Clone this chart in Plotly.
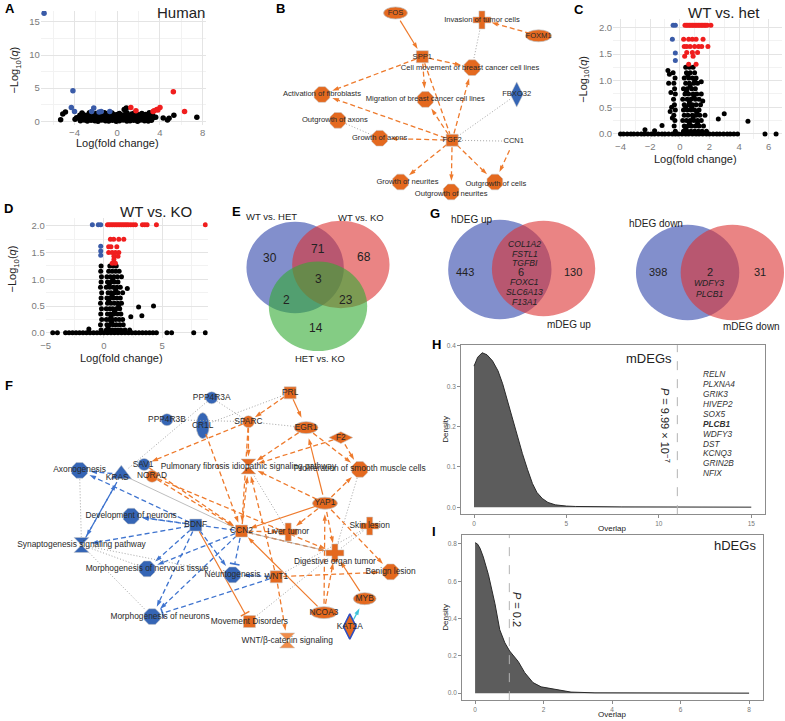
import plotly.graph_objects as go

W, H = 785, 721
FONT = "Liberation Sans, Arial, sans-serif"

# ---------------- data ----------------
# A: human volcano (log fold change, -log10 q)
a_black = [(-3.45, 0.1), (-3.1, 0.2), (-2.8, 0.05), (-2.45, 0.15), (-2.1, 0.1), (-1.8, 0.0), (-1.45, 0.2),
           (-1.1, 0.1), (-0.8, 0.05), (-0.45, 0.15), (-0.1, 0.0), (0.2, 0.1), (0.55, 0.2), (0.9, 0.05),
           (1.2, 0.1), (1.55, 0.15), (1.9, 0.0), (2.2, 0.2), (2.55, 0.1), (2.9, 0.05), (3.2, 0.15),
           (-3.6, 0.5), (-3.25, 0.6), (-2.95, 0.45), (-2.6, 0.55), (-2.3, 0.5), (-1.95, 0.6), (-1.6, 0.4),
           (-1.3, 0.55), (-0.95, 0.5), (-0.6, 0.45), (-0.3, 0.6), (0.05, 0.5), (0.4, 0.55), (0.7, 0.45),
           (1.05, 0.6), (1.4, 0.5), (1.7, 0.4), (2.05, 0.55), (2.4, 0.5), (2.7, 0.6), (3.05, 0.45), (3.35, 0.55),
           (-3.5, 0.9), (-3.15, 1.0), (-2.75, 0.95), (-2.4, 1.05), (-2.05, 0.9), (-1.7, 1.0), (-1.35, 0.95),
           (-1.0, 1.1), (-0.65, 0.9), (-0.3, 1.0), (0.0, 1.05), (0.35, 0.95), (0.65, 1.0), (1.0, 0.9),
           (1.35, 1.1), (1.65, 0.95), (2.0, 1.0), (2.35, 0.9), (2.65, 1.05), (3.0, 0.95), (3.3, 1.0),
           (-3.3, 1.25), (-2.6, 1.3), (-2.0, 1.2), (-1.2, 1.3), (-0.5, 1.25), (0.2, 1.2), (0.9, 1.3),
           (1.6, 1.25), (2.3, 1.2), (3.0, 1.3),
           (-5.3, 0.25), (-5.1, 1.1), (-4.85, 1.4), (-3.95, 0.3), (-3.8, 0.55), (0.65, 1.8), (0.85, 2.0),
           (3.6, 0.6), (4.3, 0.5), (4.7, 0.2), (4.85, 0.45), (5.3, 0.9), (7.45, 0.6)]
a_blue = [(-6.85, 16.3), (-4.15, 4.6), (-4.3, 2.1), (-4.0, 1.5), (-2.2, 2.0), (-2.4, 1.5),
          (-1.5, 1.5), (-1.7, 1.4), (-0.7, 1.5)]
a_red = [(5.25, 4.45), (6.3, 1.5), (1.27, 2.1), (1.75, 1.6), (3.35, 1.5), (3.7, 1.8),
         (4.0, 2.1), (3.8, 1.7), (3.45, 1.6)]

# C: WT vs. het volcano
c_black = [(-4.0, 0), (-3.8, 0), (-3.55, 0), (-3.3, 0), (-3.1, 0), (-2.85, 0), (-2.6, 0), (-2.4, 0),
           (-2.15, 0), (-1.9, 0), (-1.7, 0), (-1.45, 0), (-1.2, 0), (-1.0, 0), (-0.75, 0), (-0.5, 0),
           (-0.3, 0), (-0.1, 0), (0.15, 0), (0.4, 0), (0.6, 0), (0.85, 0), (1.1, 0), (1.3, 0), (1.55, 0),
           (1.8, 0), (2.0, 0), (2.25, 0), (2.5, 0), (2.7, 0), (2.95, 0), (3.2, 0), (3.4, 0), (3.65, 0),
           (3.9, 0), (5.75, 0), (6.5, 0),
           (-2.35, 0.08), (-1.7, 0.06), (-1.2, 0.16),
           (-0.3, 0.05), (-0.38, 0.15), (-0.33, 0.25), (-0.4, 0.35), (-0.3, 0.45), (-0.36, 0.55),
           (-0.42, 0.65), (-0.3, 0.75), (-0.35, 0.85), (-0.4, 0.95), (-0.32, 1.05), (-0.45, 1.15),
           (-0.8, 1.19), (-0.7, 1.12), (-0.75, 0.95), (-0.6, 0.78), (-0.55, 0.5), (-0.65, 0.42), (-0.5, 0.3),
           (0.25, 0.05), (0.5, 0.05), (0.75, 0.05), (1.0, 0.05), (1.25, 0.05), (1.5, 0.05), (1.8, 0.05),
           (0.3, 0.15), (0.55, 0.15), (0.8, 0.15), (1.05, 0.15), (1.3, 0.15), (1.6, 0.15),
           (0.2, 0.25), (0.45, 0.25), (0.7, 0.25), (0.95, 0.25), (1.2, 0.25), (1.45, 0.25),
           (0.3, 0.35), (0.55, 0.35), (0.85, 0.35), (1.1, 0.35), (1.35, 0.35), (1.7, 0.35),
           (0.25, 0.45), (0.5, 0.45), (0.75, 0.45), (1.0, 0.45), (1.3, 0.45),
           (0.3, 0.55), (0.6, 0.55), (0.85, 0.55), (1.1, 0.55), (1.4, 0.55),
           (0.2, 0.65), (0.5, 0.65), (0.75, 0.65), (1.05, 0.65), (1.3, 0.65), (1.55, 0.62),
           (0.35, 0.75), (0.6, 0.75), (0.9, 0.75), (1.15, 0.75), (1.45, 0.75),
           (0.25, 0.85), (0.5, 0.85), (0.8, 0.85), (1.05, 0.85),
           (0.4, 0.95), (0.65, 0.95), (0.95, 0.95), (1.2, 0.95), (1.45, 0.98),
           (0.3, 1.05), (0.6, 1.05), (0.85, 1.05), (1.1, 1.05),
           (0.45, 1.15), (0.7, 1.15), (1.0, 1.15),
           (0.4, 1.25), (0.65, 1.25), (0.9, 1.25),
           (0.4, 0.1), (0.65, 0.2), (0.9, 0.3), (1.15, 0.4), (0.4, 0.5), (0.65, 0.6), (0.95, 0.7),
           (0.45, 0.8), (0.7, 0.9), (1.0, 1.0), (0.55, 1.1), (0.8, 0.5), (1.2, 0.2),
           (2.6, 0.28), (3.0, 0.38), (4.6, 0.24)]
c_blue = [(-0.45, 2.04), (-0.3, 2.04), (-0.5, 1.78), (-0.3, 1.52), (-0.3, 1.38)]
c_red = [(0.35, 2.04), (0.45, 2.04), (0.55, 2.04), (0.65, 2.04), (0.75, 2.04), (0.85, 2.04), (0.95, 2.04),
         (1.05, 2.04), (1.15, 2.04), (1.25, 2.04), (1.35, 2.04), (1.45, 2.04), (1.55, 2.04), (1.65, 2.04),
         (1.75, 2.04), (1.85, 2.04), (2.1, 2.04),
         (0.26, 1.78), (0.6, 1.78), (0.85, 1.78), (1.1, 1.78), (1.57, 1.78),
         (0.3, 1.64), (0.47, 1.64), (0.7, 1.64), (1.0, 1.64), (1.27, 1.64), (1.48, 1.64), (1.9, 1.64),
         (0.47, 1.53), (0.85, 1.53), (1.2, 1.53), (0.33, 1.46), (0.9, 1.46), (0.6, 1.31), (1.1, 1.31)]

# D: WT vs. KO volcano
d_black = [(-4.4, 0), (-4.0, 0), (-3.3, 0), (-3.0, 0), (-2.7, 0), (-2.4, 0), (-2.1, 0), (-1.8, 0),
           (-1.5, 0), (-1.2, 0), (-0.9, 0), (-0.6, 0), (-0.3, 0), (0.0, 0), (0.3, 0), (0.6, 0), (0.9, 0),
           (1.2, 0), (1.5, 0), (1.8, 0), (2.1, 0), (2.4, 0), (2.7, 0), (3.0, 0), (3.3, 0), (3.6, 0),
           (3.9, 0), (4.2, 0), (4.5, 0), (5.4, 0), (5.8, 0), (7.7, 0), (8.7, 0), (-1.3, 0.07),
           (-0.25, 0.05), (-0.3, 0.15), (-0.2, 0.25), (-0.28, 0.35), (-0.22, 0.45), (-0.3, 0.55),
           (-0.25, 0.65), (-0.2, 0.75), (-0.3, 0.85), (-0.25, 0.95), (-0.22, 1.05), (-0.28, 1.15), (-0.25, 1.25),
           (0.2, 0.05), (0.45, 0.05), (0.7, 0.05), (0.95, 0.05), (1.2, 0.05), (1.45, 0.05), (1.8, 0.05), (2.2, 0.05),
           (0.25, 0.15), (0.5, 0.15), (0.8, 0.15), (1.05, 0.15), (1.35, 0.15), (1.65, 0.15),
           (0.2, 0.25), (0.45, 0.25), (0.7, 0.25), (1.0, 0.25), (1.3, 0.25), (1.6, 0.25),
           (0.3, 0.35), (0.55, 0.35), (0.85, 0.35), (1.15, 0.35), (1.45, 0.35),
           (0.2, 0.45), (0.5, 0.45), (0.75, 0.45), (1.05, 0.45), (1.35, 0.45),
           (0.3, 0.55), (0.6, 0.55), (0.9, 0.55), (1.2, 0.55), (1.5, 0.55),
           (0.25, 0.65), (0.5, 0.65), (0.8, 0.65), (1.1, 0.65), (1.4, 0.65),
           (0.35, 0.75), (0.6, 0.75), (0.9, 0.75), (1.2, 0.75), (1.6, 0.75),
           (0.2, 0.85), (0.5, 0.85), (0.8, 0.85), (1.1, 0.85), (1.4, 0.85),
           (0.3, 0.95), (0.6, 0.95), (0.9, 0.95), (1.2, 0.95),
           (0.25, 1.05), (0.55, 1.05), (0.85, 1.05), (1.15, 1.05), (1.5, 1.05),
           (0.4, 1.15), (0.7, 1.15), (1.0, 1.15), (1.3, 1.15),
           (0.5, 1.25), (0.8, 1.25), (1.05, 1.25),
           (0.35, 0.1), (0.65, 0.2), (0.9, 0.4), (0.4, 0.6), (0.7, 0.7), (1.0, 0.8), (0.45, 0.9),
           (0.75, 1.0), (0.6, 0.3), (1.25, 0.5),
           (2.0, 0.83), (2.97, 0.48), (4.25, 0.5), (3.25, 0.32), (2.3, 0.3)]
d_blue = [(-1.0, 2.02), (-0.49, 2.02), (-0.28, 2.02), (-0.28, 1.62), (-0.28, 1.53), (-0.28, 1.45)]
d_red = [(0.3, 2.02), (0.45, 2.02), (0.6, 2.02), (0.75, 2.02), (0.9, 2.02), (1.05, 2.02), (1.2, 2.02),
         (1.35, 2.02), (1.5, 2.02), (1.65, 2.02), (1.8, 2.02), (1.95, 2.02), (2.1, 2.02), (2.3, 2.02),
         (2.5, 2.02), (2.7, 2.02), (3.3, 2.02), (3.5, 2.02), (3.7, 2.02), (4.5, 2.02), (8.7, 2.02),
         (0.55, 1.75), (0.83, 1.75), (1.27, 1.75), (1.7, 1.75), (0.4, 1.61), (0.6, 1.61), (1.1, 1.61),
         (0.4, 1.5), (0.7, 1.5), (0.98, 1.5), (1.27, 1.5), (0.85, 1.43), (1.2, 1.43), (0.7, 1.3), (0.98, 1.3),
         (0.85, 1.37)]

# B: network (source, target, relation)
b_edges = [("FOS", "SPP1", "os"), ("FOXM1", "Invasion of tumor cells", "oa"),
           ("SPP1", "Cell movement of breast cancer cell lines", "oa"),
           ("SPP1", "Activation of fibroblasts", "oa"), ("SPP1", "Migration of breast cancer cell lines", "oa"),
           ("SPP1", "FGF2", "on"),
           ("FGF2", "Cell movement of breast cancer cell lines", "oa"),
           ("FGF2", "Migration of breast cancer cell lines", "oa"),
           ("FGF2", "Activation of fibroblasts", "oa"), ("FGF2", "Growth of axons", "oa"),
           ("FGF2", "Growth of neurites", "oa"), ("FGF2", "Outgrowth of neurites", "oa"),
           ("FGF2", "Outgrowth of cells", "oa"), ("CCN1", "Outgrowth of cells", "oa"),
           ("Invasion of tumor cells", "Cell movement of breast cancer cell lines", "gd"),
           ("FGF2", "FBXO32", "gd"), ("FGF2", "CCN1", "gd"), ("Outgrowth of axons", "Growth of axons", "gd")]

# F: network
f_edges = [("PRL", "SPARC", "oa"), ("EGR1", "Pulmonary fibrosis idiopathic signaling pathway", "oa"),
           ("EGR1", "Proliferation of smooth muscle cells", "oa"),
           ("F2", "Pulmonary fibrosis idiopathic signaling pathway", "oa"),
           ("F2", "Proliferation of smooth muscle cells", "oa"),
           ("YAP1", "Pulmonary fibrosis idiopathic signaling pathway", "oa"),
           ("YAP1", "Proliferation of smooth muscle cells", "oa"), ("YAP1", "Liver tumor", "oa"),
           ("YAP1", "Digestive organ tumor", "oa"), ("YAP1", "Benign lesion", "oa"),
           ("NCOA3", "YAP1", "oa"), ("NCOA3", "Digestive organ tumor", "oa"),
           ("WNT1", "Pulmonary fibrosis idiopathic signaling pathway", "oa"),
           ("WNT1", "WNT/β-catenin signaling", "oa"), ("WNT1", "Benign lesion", "oa"),
           ("SPARC", "CCN2", "oa"), ("SPARC", "SAV1", "oa"),
           ("SPARC", "Pulmonary fibrosis idiopathic signaling pathway", "oa"),
           ("CCN2", "Pulmonary fibrosis idiopathic signaling pathway", "oa"),
           ("SAV1", "CCN2", "oa"), ("NORAD", "CCN2", "oa"), ("NORAD", "Digestive organ tumor", "oa"),
           ("CR1L", "CCN2", "oa"), ("CCN2", "Liver tumor", "oa"), ("CCN2", "Digestive organ tumor", "oa"),
           ("PRL", "EGR1", "os"), ("YAP1", "EGR1", "os"), ("YAP1", "CCN2", "os"), ("NCOA3", "CCN2", "os"),
           ("MYB", "Digestive organ tumor", "os"), ("BDNF", "Movement Disorders", "ob"),
           ("BDNF", "Axonogenesis", "ba"), ("KRAS", "Axonogenesis", "ba"),
           ("BDNF", "Development of neurons", "ba"), ("CCN2", "Development of neurons", "ba"),
           ("BDNF", "Synaptogenesis signaling pathway", "ba"), ("KRAS", "Synaptogenesis signaling pathway", "ba"),
           ("Synaptogenesis signaling pathway", "KRAS", "ba"),
           ("BDNF", "Morphogenesis of nervous tissue", "ba"), ("BDNF", "Neuritogenesis", "ba"),
           ("BDNF", "Morphogenesis of neurons", "ba"), ("CCN2", "Morphogenesis of nervous tissue", "ba"),
           ("WNT1", "Neuritogenesis", "ba"), ("CCN2", "Morphogenesis of neurons", "ba"),
           ("CCN2", "Neuritogenesis", "bb"), ("WNT1", "Morphogenesis of neurons", "bb"),
           ("KAT2A", "MYB", "cy"),
           ("PPP4R3A", "SPARC", "gd"), ("PPP4R3A", "KRAS", "gd"), ("PPP4R3B", "SPARC", "gd"),
           ("PRL", "CR1L", "gd"), ("EGR1", "SPARC", "gd"),
           ("Axonogenesis", "Synaptogenesis signaling pathway", "gd"),
           ("Synaptogenesis signaling pathway", "Morphogenesis of nervous tissue", "gd"),
           ("Synaptogenesis signaling pathway", "Morphogenesis of neurons", "gd"),
           ("Synaptogenesis signaling pathway", "Neuritogenesis", "gd"),
           ("Proliferation of smooth muscle cells", "Digestive organ tumor", "gd"),
           ("Skin lesion", "Digestive organ tumor", "gd"),
           ("Pulmonary fibrosis idiopathic signaling pathway", "Liver tumor", "gd"),
           ("Movement Disorders", "Digestive organ tumor", "gd"), ("Skin lesion", "WNT1", "gd"),
           ("KRAS", "CCN2", "gs"), ("CCN2", "Digestive organ tumor", "gs")]

# E: three-way Venn of mouse DEG comparisons
e_sets = ["WT vs. HET", "WT vs. KO", "HET vs. KO"]
e_counts = [30, 71, 68, 3, 2, 23, 14]

# G: human vs mouse DEG overlaps
g_up_sets = ["hDEG up", "mDEG up"]
g_up_counts = [443, 6, 130]
g_up_genes = ["COL1A2", "FSTL1", "TGFBI", "FOXC1", "SLC6A13", "F13A1"]
g_down_sets = ["hDEG down", "mDEG down"]
g_down_counts = [398, 2, 31]
g_down_genes = ["WDFY3", "PLCB1"]

# H / I: permutation null densities of overlap
h_x = [0, 0.2, 0.44, 0.7, 1.0, 1.3, 1.55, 1.8, 2.08, 2.35, 2.62, 2.9, 3.16, 3.4, 3.69, 4.0, 4.4, 5.0, 5.5, 8, 12, 15]
h_y = [0.35, 0.372, 0.383, 0.378, 0.363, 0.338, 0.306, 0.265, 0.223, 0.178, 0.133, 0.093, 0.059, 0.037,
       0.022, 0.012, 0.006, 0.003, 0.002, 0.001, 0.0005, 0.0003]
h_observed = 11.0
h_pval = "<i>P</i> = 9.99 × 10<sup>−7</sup>"
h_genes = ["RELN", "PLXNA4", "GRIK3", "HIVEP2", "SOX5", "PLCB1", "WDFY3", "DST", "KCNQ3", "GRIN2B", "NFIX"]
h_bold = ["PLCB1"]

i_x = [0, 0.07, 0.145, 0.24, 0.39, 0.58, 0.72, 0.87, 1.01, 1.26, 1.45, 1.69, 1.93, 2.32, 2.8, 3.5, 5, 8]
i_y = [0.807, 0.80, 0.777, 0.73, 0.635, 0.48, 0.34, 0.27, 0.226, 0.17, 0.11, 0.057, 0.034, 0.021,
       0.006, 0.002, 0.001, 0.0005]
i_observed = 1.0
i_pval = "<i>P</i> = 0.2"

# ---------------- styling / layout ----------------
ORANGE = "#E4691F"
ORANGE_L = "#F08C4A"
BLUE = "#3565B5"
E_ORANGE = "#EE7A2C"
E_BLUE = "#3F74CF"
V_BLUE = "rgba(47,69,170,0.6)"
V_RED = "rgba(220,50,50,0.6)"
V_GREEN = "rgba(50,170,50,0.6)"
PT_BLUE = "#3A5BA8"
PT_RED = "#F01E1E"

fig = go.Figure()
annots = []
shapes = []


def fx(p):
    return p / W


def fy(p):
    return 1 - p / H


def txt(x, y, text, size, color="#222", **kw):
    annots.append(dict(x=fx(x), y=fy(y), xref="paper", yref="paper", text=text, showarrow=False,
                       font=dict(size=size, color=color, family=FONT), xanchor=kw.pop("xanchor", "center"),
                       yanchor="middle", **kw))


def names(n):
    s = "" if n == 1 else str(n)
    return "xaxis" + s, "yaxis" + s, "x" + s, "y" + s


def pixel_axes(n, x0, y0, x1, y1):
    xa, ya, xr, yr = names(n)
    fig.update_layout({
        xa: dict(domain=[fx(x0), fx(x1)], range=[x0, x1], visible=False, anchor=yr, fixedrange=True),
        ya: dict(domain=[fy(y1), fy(y0)], range=[y1, y0], visible=False, anchor=xr, fixedrange=True),
    })
    return xr, yr


def volcano_axes(n, box, xrange, yrange, xmaj, xmin, ymaj, ymin, yfmt=None):
    xa, ya, xr, yr = names(n)
    x0, y0, x1, y1 = box
    tf = dict(size=9.5, color="#7a7a7a", family=FONT)
    common = dict(showgrid=True, gridcolor="#e4e4e4", gridwidth=0.8, zeroline=False, showline=False,
                  ticks="", tickfont=tf, fixedrange=True, tickmode="array")
    fig.update_layout({
        xa: dict(domain=[fx(x0), fx(x1)], range=xrange, anchor=yr, tickvals=xmaj,
                 minor=dict(tickmode="array", tickvals=xmin, showgrid=True, gridcolor="#f2f2f2", gridwidth=0.6),
                 **common),
        ya: dict(domain=[fy(y1), fy(y0)], range=yrange, anchor=xr, tickvals=ymaj, tickformat=yfmt,
                 minor=dict(tickmode="array", tickvals=ymin, showgrid=True, gridcolor="#f2f2f2", gridwidth=0.6),
                 **common),
    })
    return xr, yr


def points(pts, color, size, xr, yr):
    fig.add_trace(go.Scatter(x=[p[0] for p in pts], y=[p[1] for p in pts], mode="markers",
                             marker=dict(color=color, size=size, opacity=1, line=dict(width=0)),
                             xaxis=xr, yaxis=yr, showlegend=False, hoverinfo="skip"))


# ---- A ----
xr, yr = volcano_axes(1, (36, 8, 202, 123), [-7.16, 8.28], [-0.6, 16.64],
                      [-4, 0, 4, 8], [-6, -2, 2, 6], [0, 5, 10, 15], [2.5, 7.5, 12.5])
points(a_black, "black", 5.5, xr, yr)
points(a_blue, PT_BLUE, 5.5, xr, yr)
points(a_red, PT_RED, 5.5, xr, yr)
txt(177, 10, "Human", 15)
txt(10, 67, "−Log<sub>10</sub>(<i>q</i>)", 11, textangle=-90)
txt(113, 141, "Log(fold change)", 11)

# ---- C ----
xr, yr = volcano_axes(3, (612, 16, 782, 137), [-4.5, 6.9], [-0.1, 2.16],
                      [-4, -2, 0, 2, 4, 6], [-3, -1, 1, 3, 5], [0, 0.5, 1, 1.5, 2], [0.25, 0.75, 1.25, 1.75],
                      ".1f")
points(c_black, "black", 5, xr, yr)
points(c_blue, PT_BLUE, 5, xr, yr)
points(c_red, PT_RED, 5, xr, yr)
txt(724, 10, "WT vs. het", 15)
txt(582, 77, "−Log<sub>10</sub>(<i>q</i>)", 11, textangle=-90)
txt(695, 157, "Log(fold change)", 11)

# ---- D ----
xr, yr = volcano_axes(4, (41, 216, 204, 337), [-5.0, 8.9], [-0.1, 2.15],
                      [-5, 0, 5], [-2.5, 2.5, 7.5], [0, 0.5, 1, 1.5, 2], [0.25, 0.75, 1.25, 1.75], ".1f")
points(d_black, "black", 5, xr, yr)
points(d_blue, PT_BLUE, 5, xr, yr)
points(d_red, PT_RED, 5, xr, yr)
txt(152, 210, "WT vs. KO", 15)
txt(8, 267, "−Log<sub>10</sub>(<i>q</i>)", 11, textangle=-90)
txt(117, 357, "Log(fold change)", 11)

# ---- networks ----
SYMBOL = {"oct": "octagon", "sq": "square", "circ": "circle", "cross": "cross", "dia": "diamond-tall",
          "diaw": "diamond-wide", "tri": "triangle-up", "hour": "hourglass", "rect": "square"}
SIZE = {"oct": 17, "sq": 12, "circ": 12, "cross": 15, "dia": 18, "diaw": 17, "tri": 18, "hour": 15, "rect": 12}
RADIUS = {"oct": 9, "sq": 7, "circ": 6, "cross": 8, "dia": 8, "diaw": 8, "tri": 9, "hour": 8, "rect": 7,
          "ell": 9, "none": 10}
EDGE = {
    "oa": dict(color=E_ORANGE, dash="5px,3px", head="arrow", width=1.3),
    "os": dict(color=E_ORANGE, dash="solid", head="arrow", width=1.2),
    "on": dict(color=E_ORANGE, dash="5px,3px", head=None, width=1.3),
    "ob": dict(color=E_ORANGE, dash="solid", head="line-ew", width=1.2),
    "ba": dict(color=E_BLUE, dash="5px,3px", head="arrow", width=1.3),
    "bb": dict(color=E_BLUE, dash="5px,3px", head="line-ew", width=1.3),
    "cy": dict(color="#3EC3DA", dash="solid", head="arrow", width=1.3),
    "gd": dict(color="#9a9a9a", dash="1px,2px", head=None, width=0.9),
    "gs": dict(color="#a0a0a0", dash="solid", head=None, width=0.7),
}


def draw_network(xr, yr, pos, kind, edges, label_size, shift, ell):
    groups = {}
    for s, t, rel in edges:
        (x0, y0), (x1, y1) = pos[s], pos[t]
        dx, dy = x1 - x0, y1 - y0
        L = (dx * dx + dy * dy) ** 0.5
        r0 = RADIUS[kind[s][0]]
        r1 = RADIUS[kind[t][0]] + (2 if EDGE[rel]["head"] else 0)
        g = groups.setdefault(rel, ([], [], []))
        g[0].extend([x0 + dx / L * r0, x1 - dx / L * r1, None])
        g[1].extend([y0 + dy / L * r0, y1 - dy / L * r1, None])
        g[2].extend([0, 7, 0])
    for rel, (xs, ys, sz) in groups.items():
        st = EDGE[rel]
        tr = dict(x=xs, y=ys, xaxis=xr, yaxis=yr, showlegend=False, hoverinfo="skip",
                  line=dict(color=st["color"], width=st["width"], dash=st["dash"]))
        if st["head"]:
            lw = 1.6 if st["head"] == "line-ew" else 0
            tr.update(mode="lines+markers",
                      marker=dict(symbol=st["head"], size=sz, angleref="previous", color=st["color"], opacity=1,
                                  line=dict(width=lw, color=st["color"])))
        else:
            tr.update(mode="lines")
        fig.add_trace(go.Scatter(**tr))
    # ellipse-shaped nodes
    for nm, (w, h) in ell.items():
        cx, cy = pos[nm]
        col = kind[nm][1]
        shapes.append(dict(type="circle", xref=xr, yref=yr, x0=cx - w / 2, x1=cx + w / 2,
                           y0=cy - h / 2, y1=cy + h / 2, fillcolor=col, layer="below",
                           line=dict(color="rgba(190,190,190,0.9)", width=0.8)))
    mk = [n for n in pos if kind[n][0] not in ("ell", "none")]
    fig.add_trace(go.Scatter(
        x=[pos[n][0] for n in mk], y=[pos[n][1] for n in mk], mode="markers", xaxis=xr, yaxis=yr,
        showlegend=False, hoverinfo="skip",
        marker=dict(symbol=[SYMBOL[kind[n][0]] for n in mk], size=[SIZE[kind[n][0]] for n in mk],
                    color=[kind[n][1] for n in mk], opacity=1,
                    line=dict(color=[kind[n][2] if len(kind[n]) > 2 else "rgba(200,200,200,0.9)" for n in mk],
                              width=[1.6 if len(kind[n]) > 2 else 0.6 for n in mk]))))
    lab = list(pos)
    fig.add_trace(go.Scatter(
        x=[pos[n][0] + shift.get(n, (0, 0))[0] for n in lab],
        y=[pos[n][1] + shift.get(n, (0, 0))[1] for n in lab],
        text=lab, mode="text", textposition="middle center", cliponaxis=False,
        textfont=dict(size=label_size, color="#2a2a2a", family=FONT),
        xaxis=xr, yaxis=yr, showlegend=False, hoverinfo="skip"))


# B layout
b_pos = {"FOS": (393, 10), "Invasion of tumor cells": (480, 17), "FOXM1": (537, 33), "SPP1": (420, 54),
         "Cell movement of breast cancer cell lines": (470, 65), "Activation of fibroblasts": (319, 92),
         "Migration of breast cancer cell lines": (423, 97), "FBXO32": (515, 92),
         "Outgrowth of axons": (335, 118), "Growth of axons": (377, 136), "FGF2": (450, 138),
         "CCN1": (512, 139), "Growth of neurites": (398, 180), "Outgrowth of neurites": (449, 190),
         "Outgrowth of cells": (493, 180)}
b_kind = {"FOS": ("ell", ORANGE), "Invasion of tumor cells": ("cross", ORANGE), "FOXM1": ("ell", ORANGE),
          "SPP1": ("sq", ORANGE), "Cell movement of breast cancer cell lines": ("oct", ORANGE),
          "Activation of fibroblasts": ("oct", ORANGE), "Migration of breast cancer cell lines": ("oct", ORANGE),
          "FBXO32": ("dia", BLUE), "Outgrowth of axons": ("oct", ORANGE), "Growth of axons": ("oct", ORANGE),
          "FGF2": ("sq", ORANGE), "CCN1": ("none", ORANGE), "Growth of neurites": ("oct", ORANGE),
          "Outgrowth of neurites": ("oct", ORANGE), "Outgrowth of cells": ("oct", ORANGE)}
b_shift = {"Cell movement of breast cancer cell lines": (-2, 0), "Outgrowth of axons": (-3, 0),
           "Growth of neurites": (7, 0), "Outgrowth of neurites": (0, 2), "Outgrowth of cells": (1, 2)}
b_ell = {"FOS": (24, 12), "FOXM1": (26, 12)}
xr, yr = pixel_axes(2, 240, 0, 570, 200)
draw_network(xr, yr, b_pos, b_kind, b_edges, 7.6, b_shift, b_ell)

# F layout
f_pos = {"PPP4R3A": (208, 397), "PPP4R3B": (163, 419), "CR1L": (199, 425), "SPARC": (245, 421),
         "PRL": (287, 392), "EGR1": (303, 427), "F2": (338, 437), "SAV1": (140, 464), "NORAD": (148, 476),
         "KRAS": (117, 474), "Axonogenesis": (75, 470),
         "Pulmonary fibrosis idiopathic signaling pathway": (245, 466),
         "Proliferation of smooth muscle cells": (357, 469), "YAP1": (322, 503),
         "Development of neurons": (127, 516), "BDNF": (192, 525), "CCN2": (238, 531),
         "Skin lesion": (367, 526), "Liver tumor": (285, 532), "Synaptogenesis signaling pathway": (77, 545),
         "Digestive organ tumor": (332, 553), "Morphogenesis of nervous tissue": (143, 569),
         "Benign lesion": (388, 572), "Neuritogenesis": (229, 575), "WNT1": (273, 577),
         "MYB": (362, 599), "NCOA3": (321, 613), "Morphogenesis of neurons": (148, 617),
         "Movement Disorders": (246, 622), "KAT2A": (347, 627), "WNT/β-catenin signaling": (284, 641)}
f_kind = {"PPP4R3A": ("circ", BLUE), "PPP4R3B": ("circ", BLUE), "CR1L": ("ell", BLUE),
          "SPARC": ("circ", ORANGE), "PRL": ("sq", ORANGE), "EGR1": ("ell", ORANGE), "F2": ("diaw", ORANGE),
          "SAV1": ("circ", BLUE), "NORAD": ("circ", ORANGE), "KRAS": ("tri", BLUE),
          "Axonogenesis": ("oct", BLUE), "Pulmonary fibrosis idiopathic signaling pathway": ("hour", ORANGE),
          "Proliferation of smooth muscle cells": ("oct", ORANGE), "YAP1": ("ell", ORANGE),
          "Development of neurons": ("oct", BLUE), "BDNF": ("sq", BLUE), "CCN2": ("sq", ORANGE),
          "Skin lesion": ("cross", ORANGE), "Liver tumor": ("cross", ORANGE),
          "Synaptogenesis signaling pathway": ("hour", BLUE), "Digestive organ tumor": ("cross", ORANGE),
          "Morphogenesis of nervous tissue": ("oct", BLUE), "Benign lesion": ("oct", ORANGE),
          "Neuritogenesis": ("oct", BLUE), "WNT1": ("sq", ORANGE), "MYB": ("ell", ORANGE),
          "NCOA3": ("ell", ORANGE), "Morphogenesis of neurons": ("oct", BLUE),
          "Movement Disorders": ("rect", ORANGE), "KAT2A": ("dia", ORANGE, "#2F4FC0"),
          "WNT/β-catenin signaling": ("hour", ORANGE_L)}
f_shift = {"KRAS": (-4, 4), "Morphogenesis of neurons": (8, 0), "Digestive organ tumor": (0, 9),
           "SAV1": (-1, 0)}
f_ell = {"CR1L": (13, 26), "EGR1": (24, 12), "YAP1": (25, 12), "MYB": (23, 12), "NCOA3": (27, 12)}
xr, yr = pixel_axes(6, 0, 370, 480, 665)
draw_network(xr, yr, f_pos, f_kind, f_edges, 8.4, f_shift, f_ell)

# ---- Venn diagrams (E, G) ----
xr, yr = pixel_axes(5, 240, 200, 785, 362)
venn_circles = [(292, 266, 49, 46, V_BLUE), (338, 263, 49, 44, V_RED), (315, 305, 49.5, 45, V_GREEN),
                (498, 268, 52, 50, V_BLUE), (542, 267, 52, 48, V_RED),
                (687, 271, 52, 48, V_BLUE), (732, 271, 52, 48, V_RED)]
for cx, cy, rx, ry, col in venn_circles:
    shapes.append(dict(type="circle", xref=xr, yref=yr, x0=cx - rx, x1=cx + rx, y0=cy - ry, y1=cy + ry,
                       fillcolor=col, line=dict(width=0), layer="below"))
e_label_pos = [(268, 215), (358, 216), (317, 357)]
for (x, y), s in zip(e_label_pos, e_sets):
    txt(x, y, s, 9.5)
e_count_pos = [(267, 256), (315, 247), (361, 255), (316, 278), (283, 299), (343, 299), (313, 327)]
for (x, y), c in zip(e_count_pos, e_counts):
    txt(x, y, str(c), 12)

txt(470, 218, g_up_sets[0], 10)
txt(568, 323, g_up_sets[1], 10)
for x, c in zip([463, 519, 572], g_up_counts):
    txt(x, 270, str(c), 11)
for y, gname in zip([242, 252, 261, 281, 291, 301], g_up_genes):
    txt(523, y, "<i>%s</i>" % gname, 8.6)
txt(655, 222, g_down_sets[0], 10)
txt(782, 325, g_down_sets[1], 10, xanchor="right")
for x, c in zip([657, 710, 760], g_down_counts):
    txt(x, 271, str(c), 11)
for y, gname in zip([282, 293], g_down_genes):
    txt(709, y, "<i>%s</i>" % gname, 8.6)


# ---- density panels (H, I) ----
def density_axes(n, box, xrange, yrange, xt, yt, yfmt):
    xa, ya, xr, yr = names(n)
    x0, y0, x1, y1 = box
    common = dict(showgrid=False, zeroline=False, showline=True, linecolor="#8c8c8c", linewidth=1, mirror=True,
                  ticks="outside", ticklen=3, tickcolor="#8c8c8c", tickmode="array",
                  tickfont=dict(size=6.5, color="#777", family=FONT), fixedrange=True)
    fig.update_layout({
        xa: dict(domain=[fx(x0), fx(x1)], range=xrange, anchor=yr, tickvals=xt, **common),
        ya: dict(domain=[fy(y1), fy(y0)], range=yrange, anchor=xr, tickvals=yt, tickformat=yfmt, **common),
    })
    return xr, yr


def density(xs, ys, obs, xr, yr):
    fig.add_trace(go.Scatter(x=xs, y=ys, mode="lines", fill="tozeroy", fillcolor="#5c5c5c",
                             line=dict(color="#2a2a2a", width=1), xaxis=xr, yaxis=yr,
                             showlegend=False, hoverinfo="skip"))
    shapes.append(dict(type="line", xref=xr, yref=yr + " domain", x0=obs, x1=obs, y0=0, y1=1,
                       line=dict(color="#b4b4b4", width=1, dash="dash")))


xr, yr = density_axes(7, (459, 344, 765, 514), [-0.7, 15.75], [-0.017, 0.402],
                      [0, 5, 10, 15], [0, 0.1, 0.2, 0.3, 0.4], ".1f")
density(h_x, h_y, h_observed, xr, yr)
txt(648, 357, "mDEGs", 13)
txt(665, 425, h_pval, 11, textangle=90)
for k, gname in enumerate(h_genes):
    lab = "<b><i>%s</i></b>" % gname if gname in h_bold else "<i>%s</i>" % gname
    txt(700, 373 + 10 * k, lab, 8.3, color="#333", xanchor="left")
txt(611, 528, "Overlap", 8)
txt(443, 429, "Density", 8, textangle=-90)

xr, yr = density_axes(8, (460, 535, 763, 701), [-0.38, 8.41], [-0.037, 0.848],
                      [0, 2, 4, 6, 8], [0, 0.2, 0.4, 0.6, 0.8], ".1f")
density(i_x, i_y, i_observed, xr, yr)
txt(735, 546, "hDEGs", 13)
txt(516, 610, i_pval, 11, textangle=90)
txt(611, 715, "Overlap", 8)
txt(443, 618, "Density", 8, textangle=-90)

# ---- panel letters ----
for letter, (x, y) in zip("ABCDEFGHI", [(5, 6), (277, 6), (578, 7), (4, 207), (233, 210), (4, 385),
                                         (433, 212), (434, 343), (432, 531)]):
    txt(x, y, "<b>%s</b>" % letter, 13, color="black")

fig.update_layout(width=W, height=H, margin=dict(l=0, r=0, t=0, b=0), paper_bgcolor="white",
                  plot_bgcolor="white", showlegend=False, annotations=annots, shapes=shapes,
                  font=dict(family=FONT))
# the page body has a default 8px margin; drop it so the figure sits at the window's top-left
fig.write_html("out.html", config={"displayModeBar": False},
               post_script="document.body.style.margin='0';document.body.style.overflow='hidden';")
